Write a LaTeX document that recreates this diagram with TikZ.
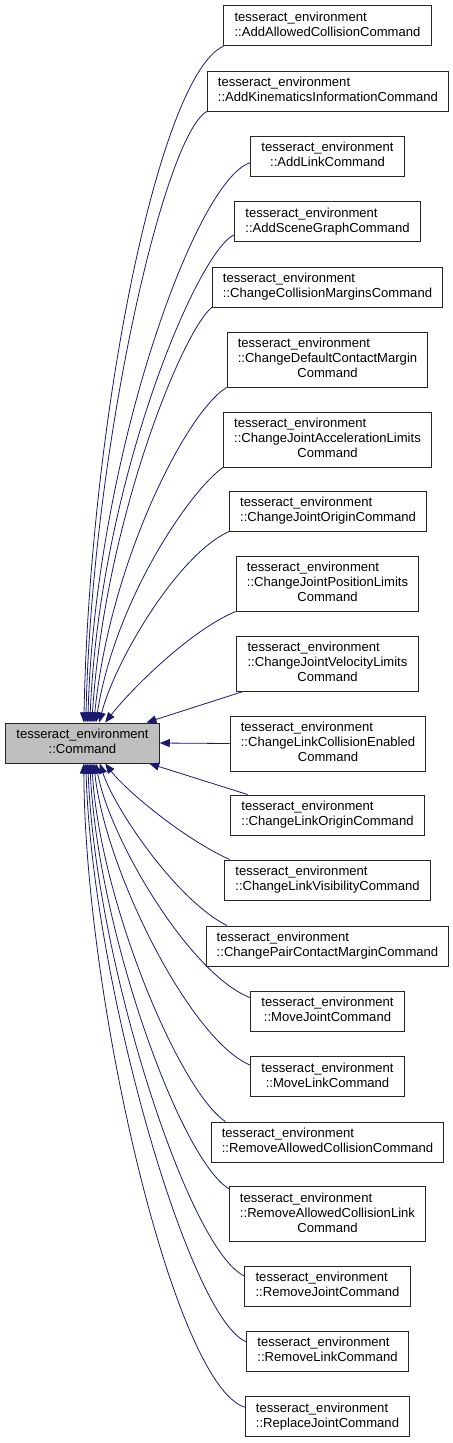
\documentclass[tikz,border=0pt]{standalone}
\usepackage{fontspec}
\setmainfont{Liberation Sans}
\usepackage{xcolor}
\usetikzlibrary{arrows.meta}
\definecolor{edgeblue}{HTML}{191970}
\definecolor{basegray}{HTML}{BFBFBF}
\newcommand{\clsname}[1]{\begin{tabular}{@{}l@{}}tesseract\_environment\\\multicolumn{1}{@{}c@{}}{::#1}\end{tabular}}
\newcommand{\clsnamelong}[2]{\begin{tabular}{@{}l@{}}tesseract\_environment\\::#1\\\multicolumn{1}{@{}c@{}}{#2}\end{tabular}}
\tikzset{
  class box/.style={rectangle, draw=black!85, line width=0.75pt, fill=white, inner xsep=8pt, inner ysep=0pt, minimum height=30pt, font=\fontsize{9.8}{11.25}\selectfont},
  tall box/.style={class box, minimum height=41.25pt},
  base box/.style={class box, fill=basegray},
  inherit edge/.style={draw=edgeblue, line width=0.6pt, -{Triangle[length=7.5pt,width=6pt]}}
}

\begin{document}
\begin{tikzpicture}[x=0.75pt, y=-0.75pt]
  \useasboundingbox (0,0) rectangle (453,1443);
  \node[base box] (cmd) at (82.5,743) {\clsname{Command}};
  \node[class box] (addcoll) at (327.5,25.7) {\clsname{AddAllowedCollisionCommand}};
  \node[class box] (addkin) at (328,91) {\clsname{AddKinematicsInformationCommand}};
  \node[class box] (addlink) at (327.5,156) {\clsname{AddLinkCommand}};
  \node[class box] (addscene) at (327.5,221.5) {\clsname{AddSceneGraphCommand}};
  \node[class box] (chcollmargin) at (327.5,287) {\clsname{ChangeCollisionMarginsCommand}};
  \node[tall box] (chdefmargin) at (327.5,359.5) {\clsnamelong{ChangeDefaultContactMargin}{Command}};
  \node[tall box] (chjointacc) at (327.5,439.5) {\clsnamelong{ChangeJointAccelerationLimits}{Command}};
  \node[class box] (chjointorigin) at (328,511) {\clsname{ChangeJointOriginCommand}};
  \node[tall box] (chjointpos) at (327.5,583.5) {\clsnamelong{ChangeJointPositionLimits}{Command}};
  \node[tall box] (chjointvel) at (327.5,663.5) {\clsnamelong{ChangeJointVelocityLimits}{Command}};
  \node[tall box] (chlinkcoll) at (328,743.5) {\clsnamelong{ChangeLinkCollisionEnabled}{Command}};
  \node[class box] (chlinkorigin) at (327.5,815) {\clsname{ChangeLinkOriginCommand}};
  \node[class box] (chlinkvis) at (327.5,880) {\clsname{ChangeLinkVisibilityCommand}};
  \node[class box] (chpairmargin) at (327.5,946) {\clsname{ChangePairContactMarginCommand}};
  \node[class box] (movejoint) at (327.5,1011) {\clsname{MoveJointCommand}};
  \node[class box] (movelink) at (327.5,1076.5) {\clsname{MoveLinkCommand}};
  \node[class box] (rmcoll) at (327.5,1142) {\clsname{RemoveAllowedCollisionCommand}};
  \node[tall box] (rmcolllink) at (327.5,1214) {\clsnamelong{RemoveAllowedCollisionLink}{Command}};
  \node[class box] (rmjoint) at (327.5,1286) {\clsname{RemoveJointCommand}};
  \node[class box] (rmlink) at (327.5,1351) {\clsname{RemoveLinkCommand}};
  \node[class box] (replacejoint) at (327.5,1416.5) {\clsname{ReplaceJointCommand}};
  % derived classes above the base
  \draw[inherit edge] (addcoll.south west) .. controls +(-65,30) and +(6,-302) .. ([xshift=1pt]cmd.north);
  \draw[inherit edge] (addkin.south west) .. controls +(-43,24) and +(6,-272) .. ([xshift=2.5pt]cmd.north);
  \draw[inherit edge] ([yshift=-5pt]addlink.west) .. controls +(-55,17) and +(7,-262) .. ([xshift=4pt]cmd.north);
  \draw[inherit edge] ([yshift=-10pt]addscene.west) .. controls +(-36,15) and +(10,-242) .. ([xshift=5.5pt]cmd.north);
  \draw[inherit edge] (chcollmargin.south west) .. controls +(-29,23) and +(13,-202) .. ([xshift=7pt]cmd.north);
  \draw[inherit edge] (chdefmargin.south west) .. controls +(-39,23) and +(16,-162) .. ([xshift=8.5pt]cmd.north);
  \draw[inherit edge] (chjointacc.south west) .. controls +(-33,23) and +(19,-122) .. ([xshift=10pt]cmd.north);
  \draw[inherit edge] (chjointorigin.south west) .. controls +(-51,23) and +(16,-62) .. ([xshift=12.5pt]cmd.north);
  \draw[inherit edge] (chjointpos.south west) .. controls +(-46,19) and +(25,-32) .. ([xshift=17pt]cmd.north);
  \draw[inherit edge] ([xshift=5pt]chjointvel.south west) -- ([xshift=48pt]cmd.north);
  \draw[inherit edge] (chlinkcoll.west) -- (cmd.east);
  % derived classes below the base
  \draw[inherit edge] ([xshift=13pt]chlinkorigin.north west) -- ([xshift=50pt]cmd.south);
  \draw[inherit edge] ([xshift=4pt]chlinkvis.north west) .. controls +(-48,-22) and +(20,26) .. ([xshift=17pt]cmd.south);
  \draw[inherit edge] ([xshift=16pt]chpairmargin.north west) .. controls +(-50,-25) and +(15,46) .. ([xshift=13pt]cmd.south);
  \draw[inherit edge] ([yshift=10pt]movejoint.west) .. controls +(-60,-23) and +(14,76) .. ([xshift=10pt]cmd.south);
  \draw[inherit edge] ([yshift=8.5pt]movelink.west) .. controls +(-60,-25) and +(11,106) .. ([xshift=8.5pt]cmd.south);
  \draw[inherit edge] ([xshift=11pt]rmcoll.north west) .. controls +(-47,-32) and +(8,136) .. ([xshift=7pt]cmd.south);
  \draw[inherit edge] ([yshift=-2pt]rmcolllink.north west) .. controls +(-49,-30) and +(8,166) .. ([xshift=5.5pt]cmd.south);
  \draw[inherit edge] ([yshift=7.5pt]rmjoint.west) .. controls +(-56,-26) and +(7,196) .. ([xshift=4pt]cmd.south);
  \draw[inherit edge] ([yshift=7pt]rmlink.west) .. controls +(-57,-22) and +(6,216) .. ([xshift=2.5pt]cmd.south);
  \draw[inherit edge] ([yshift=7pt]replacejoint.west) .. controls +(-71,-22) and +(1,236) .. ([xshift=1pt]cmd.south);
\end{tikzpicture}
\end{document}
